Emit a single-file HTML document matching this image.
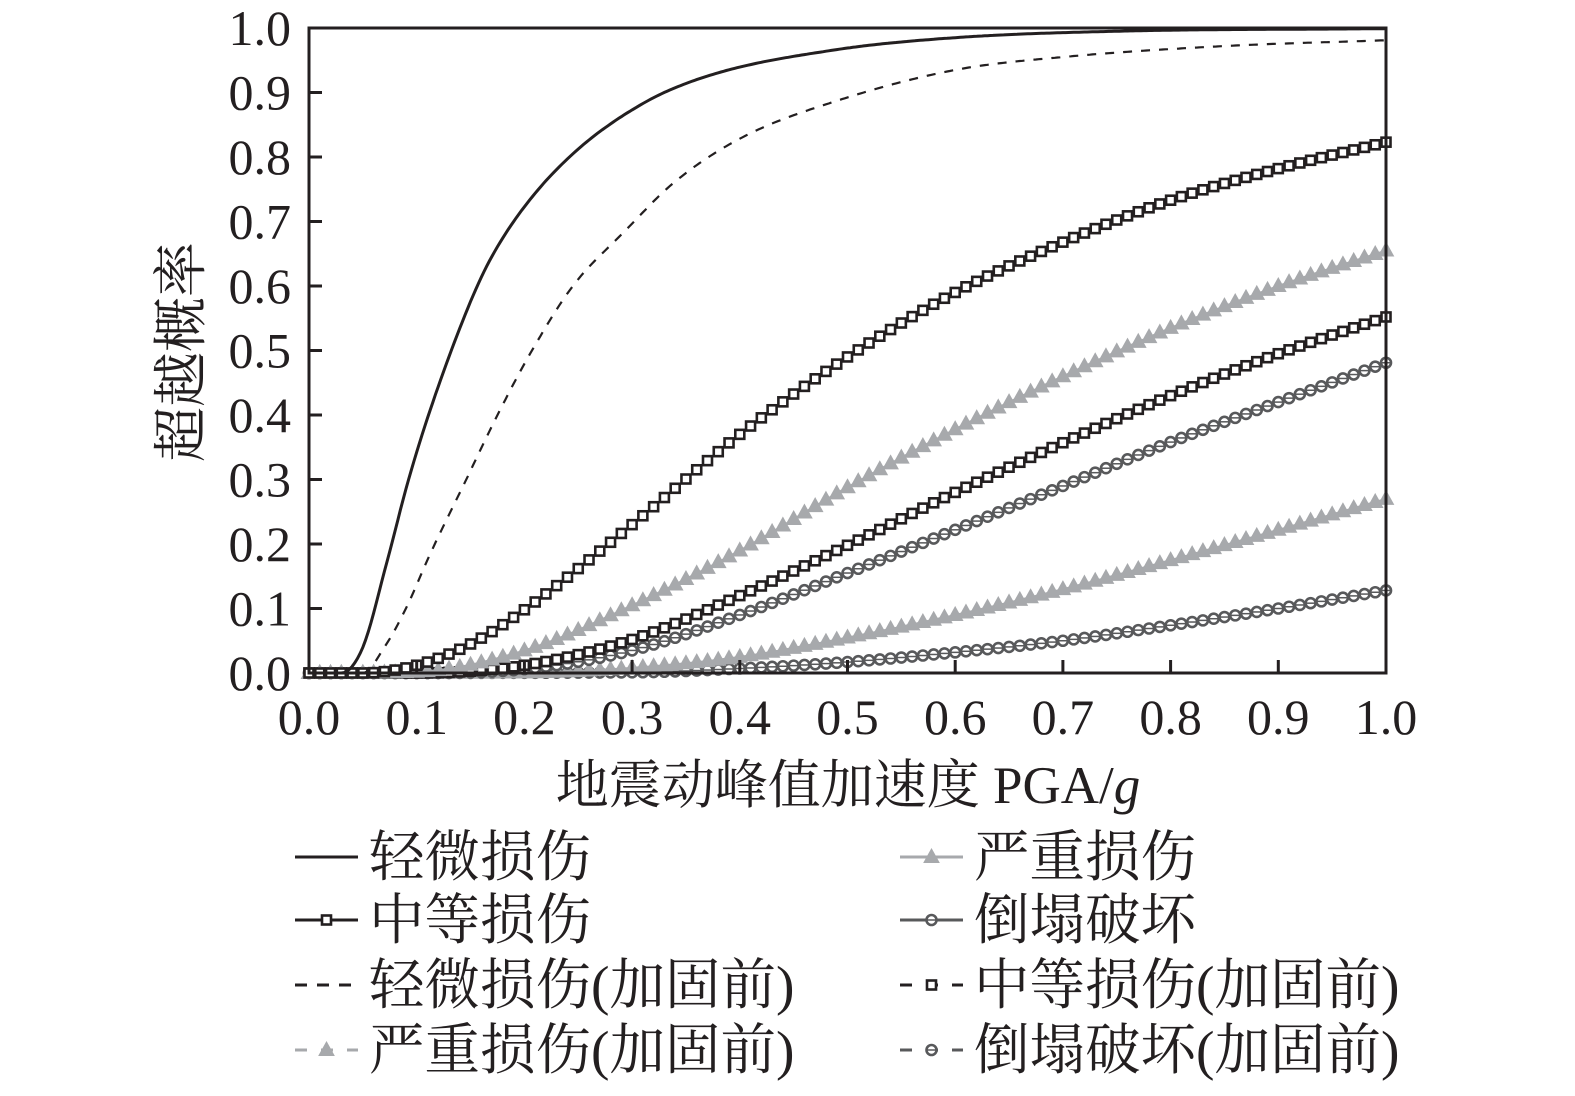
<!DOCTYPE html>
<html><head><meta charset="utf-8"><style>
html,body{margin:0;padding:0;background:#fff;}
svg{display:block;}
text{font-family:"Liberation Serif","Noto Serif CJK SC",serif;fill:#231f20;}
</style></head><body>
<svg id="s" width="1575" height="1096" xmlns="http://www.w3.org/2000/svg">
<g id="curves"></g>
<rect x="309" y="28" width="1077" height="645" fill="none" stroke="#231f20" stroke-width="3"/>
<g id="axes" font-size="50"></g>
<text x="182" y="352" font-size="55" text-anchor="middle" transform="rotate(-90 182 352)" dy="18">超越概率</text>
<text x="848" y="803" font-size="53" text-anchor="middle">地震动峰值加速度 PGA/<tspan font-style="italic">g</tspan></text>
<g id="legend" font-size="55.5"></g>
</svg>
<script>
const X=v=>309+v*1077, Y=p=>673-p*645;
function mono(pts){const n=pts.length,xs=pts.map(p=>p[0]),ys=pts.map(p=>p[1]);const d=[],m=[];
for(let i=0;i<n-1;i++)d.push((ys[i+1]-ys[i])/(xs[i+1]-xs[i]));
m[0]=d[0];m[n-1]=d[n-2];for(let i=1;i<n-1;i++){m[i]=(d[i-1]*d[i]<=0)?0:(d[i-1]+d[i])/2;}
for(let i=0;i<n-1;i++){if(d[i]==0){m[i]=m[i+1]=0;continue;}const a=m[i]/d[i],b=m[i+1]/d[i],s=a*a+b*b;if(s>9){const t=3/Math.sqrt(s);m[i]=t*a*d[i];m[i+1]=t*b*d[i];}}
return x=>{if(x<=xs[0])return ys[0];if(x>=xs[n-1])return ys[n-1];let i=0;while(x>xs[i+1])i++;const h=xs[i+1]-xs[i],t=(x-xs[i])/h,t2=t*t,t3=t2*t;
return (2*t3-3*t2+1)*ys[i]+(t3-2*t2+t)*h*m[i]+(-2*t3+3*t2)*ys[i+1]+(t3-t2)*h*m[i+1];};}
const S={
slight:[[0,0],[0.03,0],[0.05,0.04],[0.072,0.17],[0.0925,0.3],[0.115,0.42],[0.159,0.61],[0.188,0.695],[0.238,0.794],[0.308,0.881],[0.371,0.926],[0.488,0.966],[0.6,0.985],[0.75,0.995],[1,0.999]],
slightP:[[0,0],[0.05,0],[0.07,0.04],[0.09,0.1],[0.1115,0.181],[0.146,0.3],[0.175,0.4],[0.207,0.5],[0.245,0.6],[0.292,0.683],[0.34,0.762],[0.403,0.831],[0.488,0.886],[0.6,0.935],[0.7,0.955],[0.85,0.972],[1,0.981]],
med:[[0,0],[0.05,0],[0.1,0.012],[0.15,0.045],[0.2,0.098],[0.3,0.23],[0.4,0.37],[0.5,0.49],[0.6,0.59],[0.7,0.668],[0.8,0.733],[0.9,0.782],[1,0.823]],
sev:[[0,0],[0.1,0.002],[0.2,0.035],[0.3,0.105],[0.4,0.19],[0.5,0.288],[0.6,0.378],[0.7,0.46],[0.8,0.535],[0.9,0.6],[1,0.655]],
medP:[[0,0],[0.1,0],[0.2,0.012],[0.3,0.052],[0.4,0.12],[0.5,0.198],[0.6,0.28],[0.7,0.357],[0.8,0.43],[0.9,0.495],[1,0.552]],
col:[[0,0],[0.1,0],[0.2,0.006],[0.3,0.035],[0.4,0.09],[0.5,0.155],[0.6,0.222],[0.7,0.29],[0.8,0.358],[0.9,0.42],[1,0.481]],
sevP:[[0,0],[0.2,0.001],[0.3,0.008],[0.4,0.025],[0.5,0.055],[0.6,0.09],[0.7,0.13],[0.8,0.175],[0.9,0.222],[1,0.27]],
colP:[[0,0],[0.3,0.001],[0.4,0.007],[0.5,0.017],[0.6,0.032],[0.7,0.05],[0.8,0.074],[0.9,0.1],[1,0.128]]};
let out='';
function path(f,stroke,w,dash){let d='';for(let i=0;i<=400;i++){const x=i/400;d+=(i?'L':'M')+X(x).toFixed(1)+' '+Y(f(x)).toFixed(1);}
return `<path d="${d}" fill="none" stroke="${stroke}" stroke-width="${w}" ${dash?`stroke-dasharray="${dash}"`:''}/>`;}
function mk(type,x,y,c){if(type=='sq')return `<rect x="${x-4.5}" y="${y-4.5}" width="9" height="9" fill="#fff" stroke="${c}" stroke-width="2.6"/>`;
if(type=='tri')return `<path d="M${x} ${y-8}L${x+7.5} ${y+5.5}L${x-7.5} ${y+5.5}Z" fill="#a7a9ac" stroke="#a7a9ac" stroke-width="1"/>`;
return `<circle cx="${x}" cy="${y}" r="5" fill="#fff" stroke="${c}" stroke-width="2.6"/><line x1="${x-4}" y1="${y}" x2="${x+4}" y2="${y}" stroke="${c}" stroke-width="1.5"/>`;}
function ser(f,type,c){let s='';for(let i=0;i<=100;i++){const x=i/100;s+=mk(type,X(x),Y(f(x)),c);}return s;}
const F={};for(const k in S)F[k]=mono(S[k]);
out+=path(F.colP,'#58595b',2)+ser(F.colP,'ci','#58595b');
out+=path(F.sevP,'#a7a9ac',2)+ser(F.sevP,'tri');
out+=path(F.col,'#58595b',2)+ser(F.col,'ci','#58595b');
out+=path(F.medP,'#231f20',2)+ser(F.medP,'sq','#231f20');
out+=path(F.sev,'#a7a9ac',2)+ser(F.sev,'tri');
out+=path(F.med,'#231f20',2)+ser(F.med,'sq','#231f20');
out+=path(F.slightP,'#231f20',2.2,'9 9');
out+=path(F.slight,'#231f20',3);
document.getElementById('curves').innerHTML=out;
let a='';
for(let i=0;i<=10;i++){const v=(i/10).toFixed(1);const y=Y(i/10),x=X(i/10);
a+=`<line x1="309" y1="${y}" x2="322" y2="${y}" stroke="#231f20" stroke-width="3"/>`;
a+=`<line x1="${x}" y1="673" x2="${x}" y2="660" stroke="#231f20" stroke-width="3"/>`;
a+=`<text x="291" y="${y+17}" text-anchor="end">${v}</text>`;
a+=`<text x="${x}" y="734" text-anchor="middle">${v}</text>`;}
document.getElementById('axes').innerHTML=a;
const L=[[295,857,'轻微损伤','#231f20',3,'',null],[900,857,'严重损伤','#a7a9ac',3,'','tri'],
[295,920,'中等损伤','#231f20',3,'','sq'],[900,920,'倒塌破坏','#58595b',3,'','ci'],
[295,985,'轻微损伤(加固前)','#231f20',3,'12 10',null],[900,985,'中等损伤(加固前)','#231f20',3,'12 14','sq'],
[295,1050,'严重损伤(加固前)','#a7a9ac',3,'12 14','tri'],[900,1050,'倒塌破坏(加固前)','#58595b',3,'12 14','ci']];
let l='';for(const [x,y,t,c,w,d,m] of L){l+=`<line x1="${x}" y1="${y}" x2="${x+63}" y2="${y}" stroke="${c}" stroke-width="${w}" ${d?`stroke-dasharray="${d}"`:''}/>`;
if(m)l+=mk(m,x+31.5,y,c);l+=`<text x="${x+74}" y="${y+19}">${t}</text>`;}
document.getElementById('legend').innerHTML=l;
</script>
</body></html>
